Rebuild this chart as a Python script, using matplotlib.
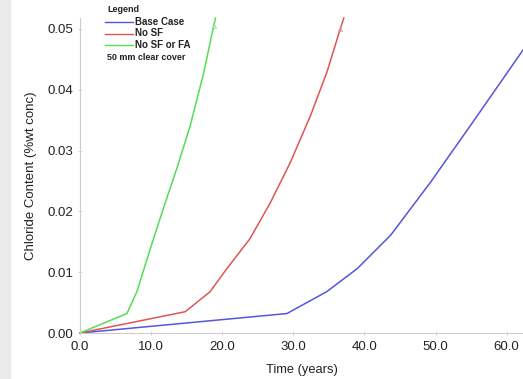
import matplotlib
matplotlib.use("Agg")
import matplotlib.pyplot as plt
from matplotlib.patches import Rectangle

plt.rcParams['font.family'] = ['Liberation Sans', 'DejaVu Sans']

# Data
base_t = [0.0, 29.1, 34.7, 39.0, 43.7, 49.3, 54.9, 62.4]
base_c = [0.0, 0.0032, 0.0068, 0.0106, 0.0161, 0.0248, 0.0341, 0.0467]

nosf_t = [0.0, 14.8, 18.3, 20.6, 23.9, 26.8, 29.6, 32.4, 34.7, 36.6, 37.1]
nosf_c = [0.0, 0.0035, 0.0068, 0.0105, 0.0155, 0.0215, 0.0281, 0.0357, 0.0428, 0.0500, 0.0518]

nosffa_t = [0.0, 6.6, 8.0, 9.9, 11.7, 13.6, 15.5, 17.4, 18.8, 19.05]
nosffa_c = [0.0, 0.0032, 0.0068, 0.0139, 0.0204, 0.0270, 0.0341, 0.0428, 0.0505, 0.0518]

series_labels = ["Base Case", "No SF", "No SF or FA"]
series_colors = ["#5555dd", "#dd5555", "#55dd55"]
note = "50 mm clear cover"
x_ticks = [0, 10, 20, 30, 40, 50, 60]
y_ticks = [0.00, 0.01, 0.02, 0.03, 0.04, 0.05]

fig = plt.figure(figsize=(5.23, 3.79), dpi=100)
fig.patches.append(Rectangle((0, 0), 10/523, 1, transform=fig.transFigure,
                             color="#ebebeb", zorder=0))
ax = fig.add_axes([80/523, (379-333)/379, (523-80)/523, (333-18)/379])

for t, c, col in zip([base_t, nosf_t, nosffa_t], [base_c, nosf_c, nosffa_c], series_colors):
    ax.plot(t, c, color=col, lw=1.1, clip_on=False)
# small end markers
ax.plot([nosf_t[-2]], [nosf_c[-2]], marker='^', ms=3, mfc='none', mec="#dd9999", mew=0.6)
ax.plot([nosffa_t[-2]], [nosffa_c[-2]], marker='^', ms=3, mfc='none', mec="#99dd99", mew=0.6)

ax.set_xlim(0, 62.3)
ax.set_ylim(0, 0.0518)
ax.set_xticks(x_ticks)
ax.set_xticklabels([f"{v:.1f}" for v in x_ticks])
ax.set_yticks(y_ticks)
ax.set_yticklabels([f"{v:.2f}" for v in y_ticks])

for s in ['top', 'right']:
    ax.spines[s].set_visible(False)
for s in ['left', 'bottom']:
    ax.spines[s].set_color("#cccccc")
    ax.spines[s].set_linewidth(0.8)
ax.tick_params(axis='both', colors="#cccccc", labelcolor="#222222", labelsize=9.5,
               length=3, width=0.6, direction='inout')
ax.tick_params(axis='y', pad=3)
ax.tick_params(axis='x', pad=4)

ax.set_xlabel("Time (years)", fontsize=9.3, color="#222222", labelpad=8)
ax.set_ylabel("Chloride Content (%wt conc)", fontsize=9.5, color="#222222", labelpad=8)

# Legend drawn as figure text
def fx(px):
    return px/523
def fy(py):
    return 1 - py/379

fig.text(fx(107), fy(10), "Legend", fontsize=6.5, fontweight='bold', va='center', ha='left', color="#222222")
for i, (lab, col) in enumerate(zip(series_labels, series_colors)):
    y = 22 + i*11.5
    fig.add_artist(plt.Line2D([fx(105), fx(133)], [fy(y), fy(y)], color=col, lw=1.0,
                              transform=fig.transFigure))
    fig.text(fx(135), fy(y), lab, fontsize=7, fontweight='bold', va='center', ha='left', color="#222222")
fig.text(fx(107), fy(58), note, fontsize=6.5, fontweight='bold', va='center', ha='left', color="#222222")

fig.savefig("out.png", dpi=100)
